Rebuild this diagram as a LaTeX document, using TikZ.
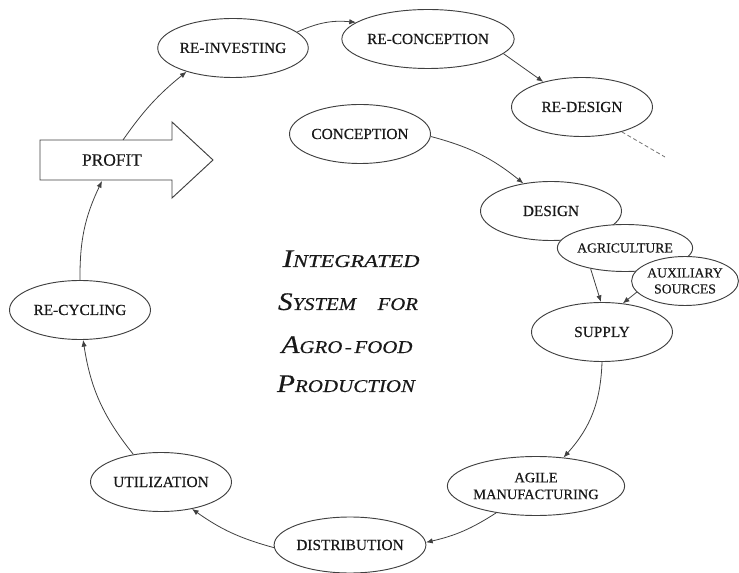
\documentclass[tikz,border=0pt]{standalone}
\usepackage{fontspec}
\usepackage{graphicx}
\setmainfont{Liberation Serif}
\usetikzlibrary{shapes.geometric,arrows.meta}
% small-caps title pieces
\newcommand\tcapL[1]{{\fontsize{19}{19}\selectfont #1}}
\newcommand\tcapS[1]{{\fontsize{13.5}{13.5}\selectfont #1}}
\newcommand\heavy{\addfontfeature{FakeBold=0.35}}
\begin{document}
\begin{tikzpicture}[x=0.75pt,y=-0.75pt,
  oval/.style={ellipse,draw=black!75,line width=0.7pt,fill=white,inner sep=0pt,
    minimum width=105.75pt,minimum height=44.25pt,align=center,
    font=\fontsize{11.5}{13}\selectfont\heavy,text=black!90},
  smalloval/.style={oval,font=\fontsize{10.3}{12}\selectfont\heavy},
  flow/.style={draw=black!75,line width=0.6pt,-{Latex[length=5pt,width=4pt]}},
  title/.style={anchor=base,inner sep=0pt,text=black!90,font=\itshape\heavy}]
\path[use as bounding box] (0,0) rectangle (739,573);

% outer re-engineering loop
\node[oval] (reinv) at (233,48) {RE-INVESTING};
\node[oval] (reconc) at (428,39) {RE-CONCEPTION};
\node[oval] (redes) at (582,107) {RE-DESIGN};
\coordinate (dashend) at (665,157);

% main production cycle
\node[oval] (conc) at (360,134) {CONCEPTION};
\node[oval] (design) at (551,211) {DESIGN};
\node[smalloval,minimum width=85.5pt,minimum height=35.25pt] (agri) at (625,248) {AGRICULTURE};
\node[smalloval,minimum width=79.5pt,minimum height=36.75pt] (aux) at (685,281) {AUXILIARY\\SOURCES};
\node[oval] (supply) at (602,332) {SUPPLY};
\node[oval,font=\fontsize{10.8}{12.6}\selectfont\heavy] (agile) at (536,486) {AGILE\\MANUFACTURING};
\node[oval,minimum width=103.5pt,minimum height=42pt] (distr) at (350,545) {DISTRIBUTION};
\node[oval] (util) at (161,482) {UTILIZATION};
\node[oval] (recyc) at (80,310) {RE-CYCLING};

% profit block arrow
\draw[black!75,line width=0.7pt,fill=white] (40,140) -- (172,140) -- (172,122) -- (213,160)
  -- (172,198) -- (172,180) -- (40,180) -- cycle;
\node[text=black!90,font=\fontsize{13}{15}\selectfont\heavy,inner sep=0pt] (profit) at (112,160) {PROFIT};
\coordinate (profittop) at (123,140);
\coordinate (profitbot) at (102,181);

% connectors
\draw[flow] (profittop) to[bend left=8] (reinv.207);
\draw[flow] (reinv.14) to[bend left=15] (reconc.167);
\draw[flow] (reconc.-11) -- (redes.147);
\draw[draw=black!55,line width=0.6pt,dash pattern=on 3pt off 2pt] (redes.-32) -- (dashend);
\draw[flow] (conc.-2) to[bend left=12] (design.135);
\draw[flow] (agri.211) -- (supply.92);
\draw[flow] (aux.193) -- (supply.54);
\draw[flow] (supply.270) to[bend left=20] (agile.46);
\draw[flow] (agile.214) to[bend left=10] (distr.2);
\draw[flow] (distr.182) to[bend left=10] (util.-41);
\draw[flow] (util.135) to[bend left=15] (recyc.276);
\draw[flow] (recyc.90) to[bend left=13] (profitbot);

% central title
\node[title] (t1) at (351,267) {\resizebox{102.75pt}{\height}{\tcapL{I}\tcapS{NTEGRATED}}};
\node[title] (t2) at (348,310) {\resizebox{105pt}{\height}{\tcapL{S}\tcapS{YSTEM}\hspace{14pt}\tcapS{FOR}}};
\node[title] (t3) at (347,353) {\resizebox{98.25pt}{\height}{\tcapL{A}\tcapS{GRO}\,\tcapS{-}\,\tcapS{FOOD}}};
\node[title] (t4) at (346,392) {\resizebox{103.5pt}{\height}{\tcapL{P}\tcapS{RODUCTION}}};
\end{tikzpicture}
\end{document}
